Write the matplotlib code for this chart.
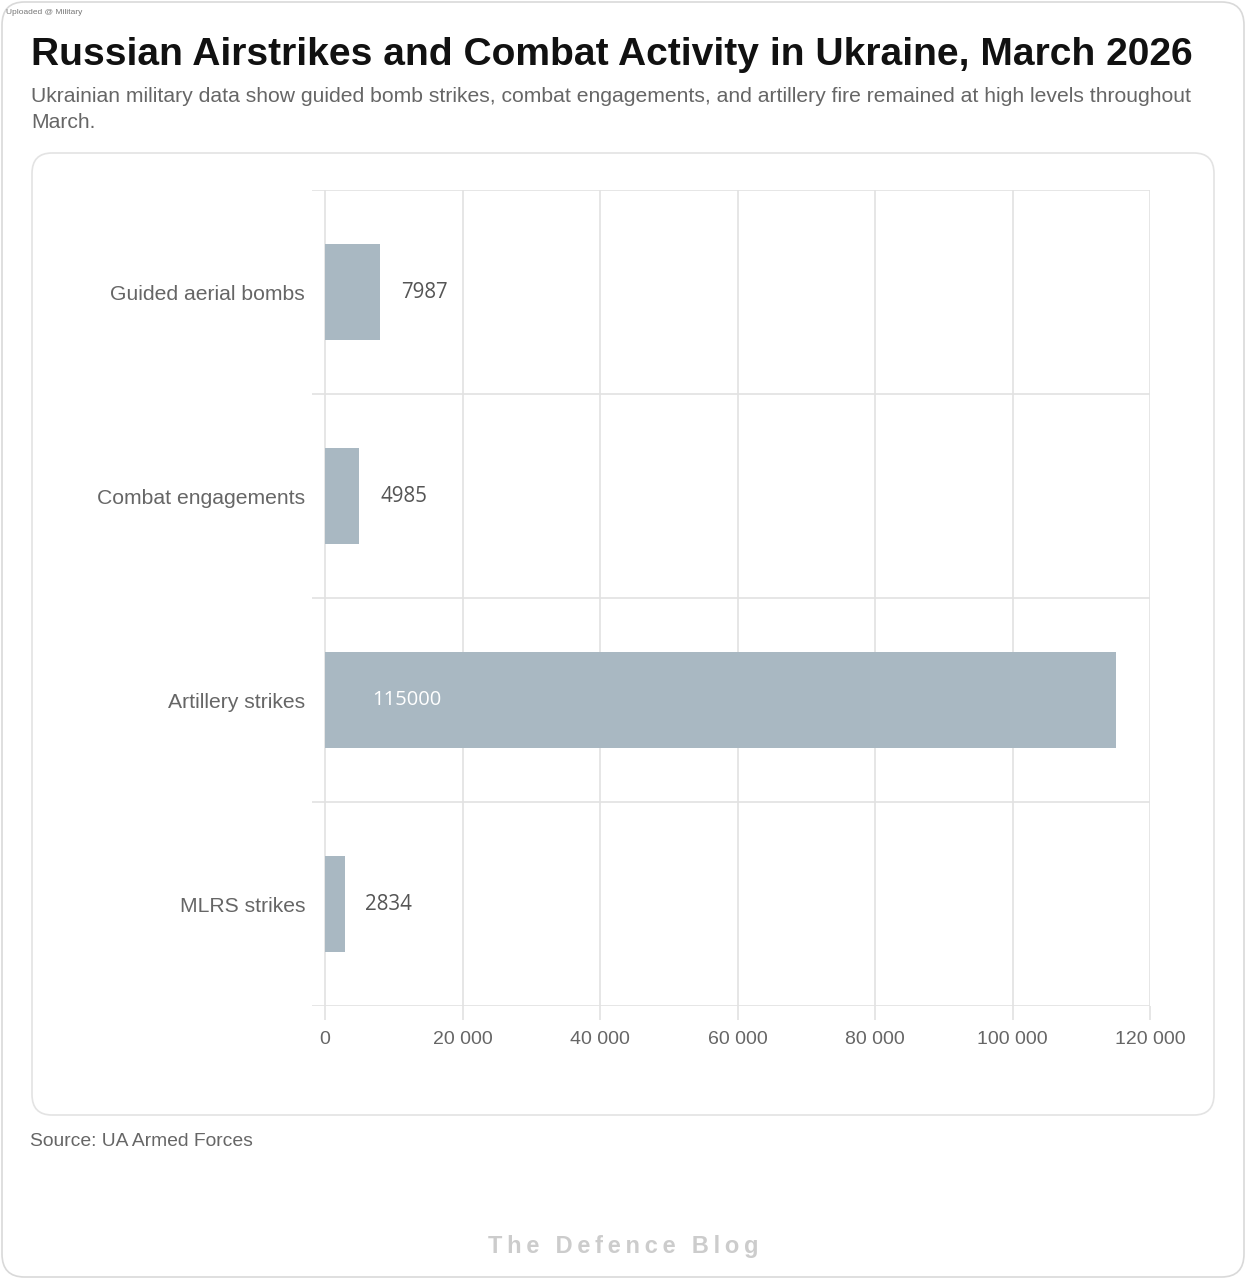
import matplotlib.pyplot as plt
from matplotlib.patches import FancyBboxPatch
from matplotlib.ticker import FuncFormatter, FixedLocator

categories = ['Guided aerial bombs', 'Combat engagements', 'Artillery strikes', 'MLRS strikes']
values = [7987, 4985, 115000, 2834]
x_ticks = [0, 20000, 40000, 60000, 80000, 100000, 120000]

title = 'Russian Airstrikes and Combat Activity in Ukraine, March 2026'
subtitle = ('Ukrainian military data show guided bomb strikes, combat engagements, and artillery fire remained at high levels throughout\n'
            'March.')
source = 'Source: UA Armed Forces'
watermark = 'The Defence Blog'

BAR = '#a9b8c2'
GRID = '#e2e2e2'
TXT = '#666666'

W, H = 1246, 1280
fig = plt.figure(figsize=[W / 100, H / 100], dpi=100)
fig.patch.set_facecolor('white')


def fx(px):
    return px / W


def fy(py):
    return 1 - py / H


# outer and inner cards
fig.patches.append(FancyBboxPatch((fx(2), fy(1277)), fx(1242), 1275 / H,
                                  boxstyle='round,pad=0,rounding_size=0.018',
                                  transform=fig.transFigure, facecolor='white',
                                  edgecolor='#d9d9d9', linewidth=1.2, zorder=-2))
fig.patches.append(FancyBboxPatch((fx(32), fy(1115)), fx(1182), 962 / H,
                                  boxstyle='round,pad=0,rounding_size=0.016',
                                  transform=fig.transFigure, facecolor='white',
                                  edgecolor='#e3e3e3', linewidth=1.2, zorder=-1))

fig.text(fx(6), fy(13), 'Uploaded @ Military', fontsize=6, color='#777777',
         family='Liberation Sans', va='center', ha='left')
fig.text(fx(31), fy(55), title, fontsize=28.1, fontweight='bold', color='#111111',
         family='Liberation Sans', va='center', ha='left')
fig.text(fx(31), fy(87), subtitle, fontsize=15.2, color=TXT, family='Liberation Sans',
         va='top', ha='left', linespacing=1.45)
fig.text(fx(30), fy(1142), source, fontsize=13.9, color=TXT, family='Liberation Sans',
         va='center', ha='left')
fig.text(0.5, fy(1247), '\u2009'.join(watermark).replace('\u2009 \u2009', '\u2009\u2009 '),
         fontsize=17, color='#cccccc', fontweight='bold', family='Liberation Sans',
         va='center', ha='center')

ax = fig.add_axes([fx(312), fy(1006), fx(1150 - 312), (1006 - 190) / H])
ax.set_facecolor('none')
ax.set_zorder(1)

pos = list(range(len(categories)))
ax.barh(pos, values, height=0.475, color=BAR, zorder=2)

ax.set_xlim(-1900, 120000)
ax.set_ylim(len(categories) - 0.5, -0.5)

ax.xaxis.set_major_locator(FixedLocator(x_ticks))
ax.xaxis.set_major_formatter(FuncFormatter(lambda v, p: f'{int(v):,}'.replace(',', ' ')))
ax.set_yticks(pos)
ax.set_yticklabels(categories)
ax.set_yticks([p + 0.5 for p in [-1] + pos], minor=True)

ax.grid(axis='x', which='major', color=GRID, linewidth=1.2, zorder=0)
ax.grid(axis='y', which='minor', color=GRID, linewidth=1.2, zorder=0)
ax.tick_params(axis='x', length=10, width=1.2, color=GRID, pad=8,
               labelsize=14, labelcolor=TXT)
ax.tick_params(axis='y', which='both', length=0, pad=5, labelsize=15.2, labelcolor=TXT)
for lab in ax.get_xticklabels() + ax.get_yticklabels():
    lab.set_family('Liberation Sans')
for s in ax.spines.values():
    s.set_visible(False)

# value labels
for i, v in enumerate(values):
    if v > 0.5 * max(values):
        ax.annotate(str(v), (0, i), xytext=(34, 0), textcoords='offset points',
                    ha='left', va='center', color='white', fontsize=14.5,
                    family='Open Sans', zorder=3)
    else:
        ax.annotate(str(v), (v, i), xytext=(15, 0), textcoords='offset points',
                    ha='left', va='center', color='#555555', fontsize=14.8,
                    family='Open Sans', zorder=3)

plt.savefig('out.png', dpi=100, facecolor='white')
